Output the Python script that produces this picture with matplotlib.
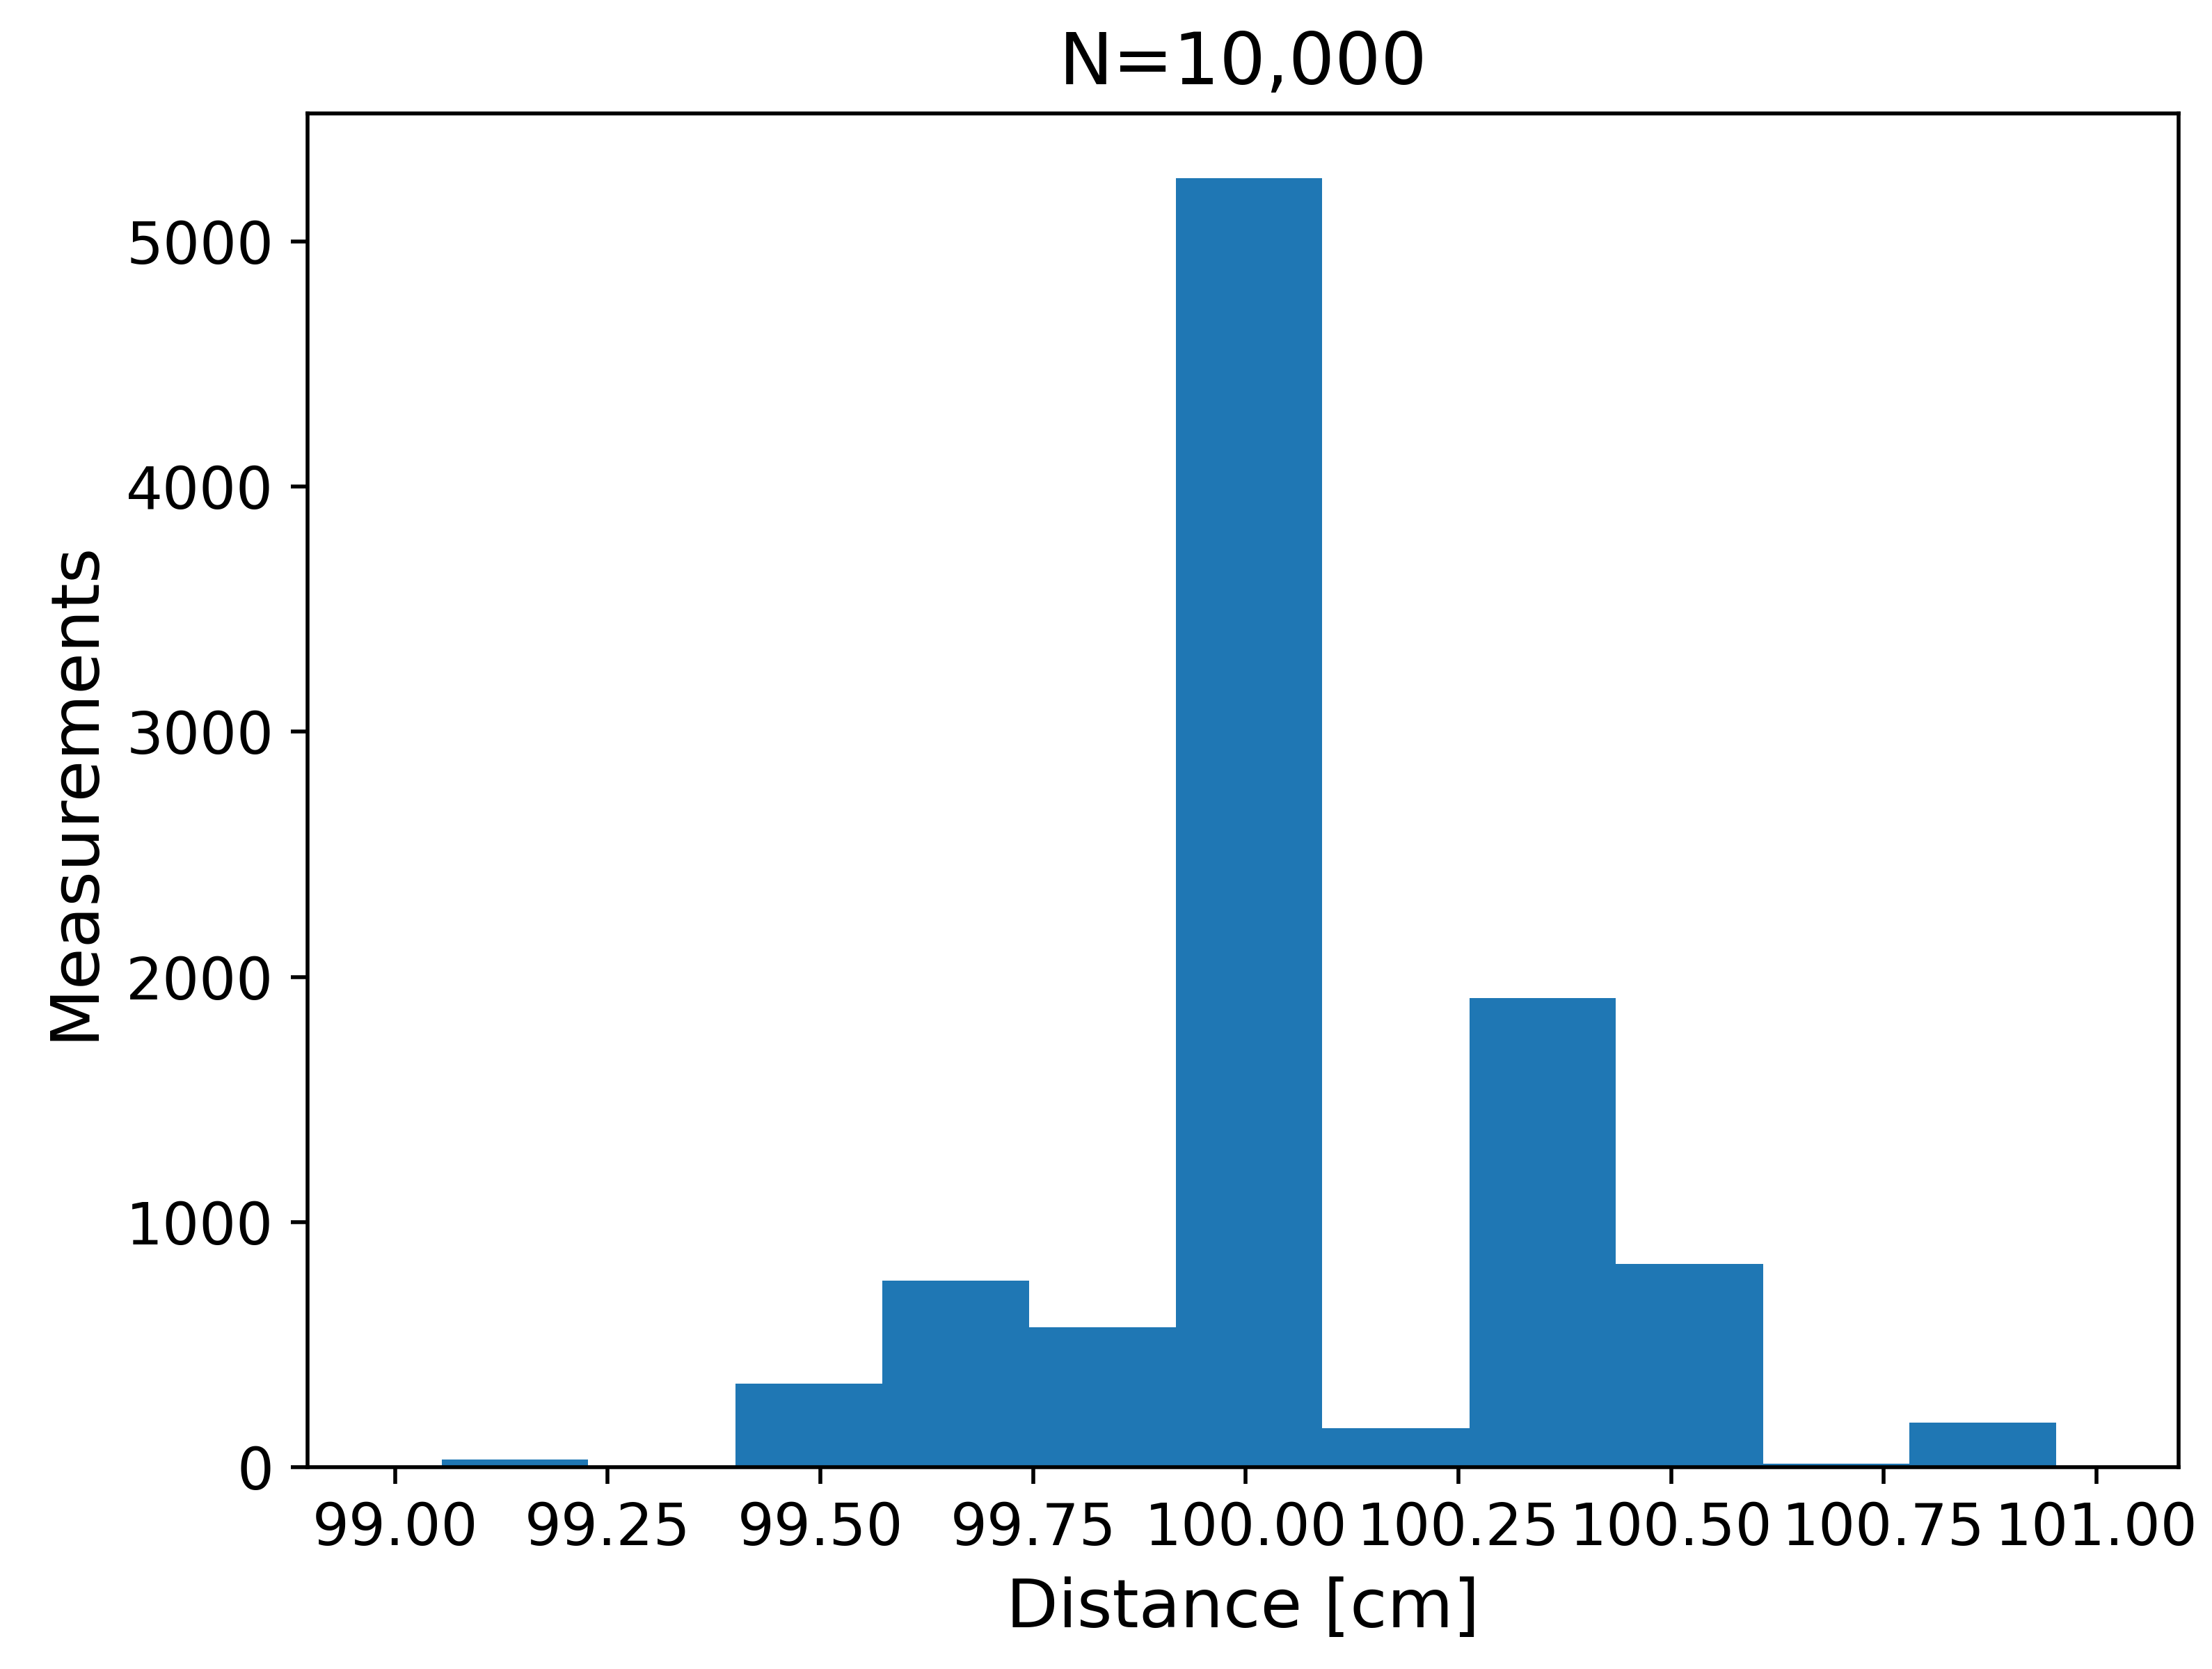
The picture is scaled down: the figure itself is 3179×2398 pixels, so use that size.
import numpy as np
import matplotlib.pyplot as plt

# histogram bin edges and counts
edges = [99.055, 99.227, 99.400, 99.573, 99.745, 99.918, 100.090,
         100.263, 100.435, 100.608, 100.780, 100.953]
counts = [30, 0, 340, 760, 570, 5260, 160, 1915, 830, 15, 180]

fig, ax = plt.subplots(figsize=(6.358, 4.796), dpi=500)
centers = (np.array(edges[:-1]) + np.array(edges[1:])) / 2
ax.hist(centers, bins=edges, weights=counts, color='#1f77b4')

ax.set_xlim(98.897, 101.097)
ax.set_xticks([99.0, 99.25, 99.5, 99.75, 100.0, 100.25, 100.5, 100.75, 101.0])
ax.set_xticklabels(['99.00', '99.25', '99.50', '99.75', '100.00', '100.25',
                    '100.50', '100.75', '101.00'])
ax.tick_params(labelsize=12)
ax.set_xlabel('Distance [cm]', fontsize=14)
ax.set_ylabel('Measurements', fontsize=14)
ax.set_title('N=10,000', fontsize=15)

plt.subplots_adjust(left=0.139, right=0.985, top=0.932, bottom=0.121)
plt.savefig('out.png')
